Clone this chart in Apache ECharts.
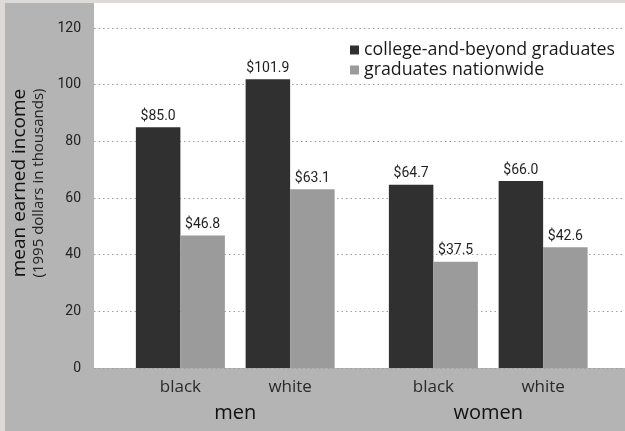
<!DOCTYPE html>
<html><head><meta charset="utf-8">
<script src="https://cdn.jsdelivr.net/npm/echarts@6/dist/echarts.min.js"></script>
<style>html,body{margin:0;padding:0;}#c{width:625px;height:431px;}</style>
</head><body><div id="c"></div>
<script>
var groups = ['men', 'women'];
var races = ['black', 'white'];
var seriesNames = ['college-and-beyond graduates', 'graduates nationwide'];
var menCollege = [85.0, 101.9];
var menNational = [46.8, 63.1];
var womenCollege = [64.7, 66.0];
var womenNational = [37.5, 42.6];
var yTicks = [0, 20, 40, 60, 80, 100, 120];

var DARK = '#303030', GRAY = '#9b9b9b';
var numFont = '"Liberation Sans Narrow", "Roboto", sans-serif';
var txtFont = '"Open Sans", "Noto Sans", sans-serif';

var chart = echarts.init(document.getElementById('c'));
var lbl = {show: true, position: 'top', distance: 4, color: '#231f20', fontFamily: numFont, fontSize: 14,
  formatter: function (p) { return '$' + p.value.toFixed(1); }};
function hiddenY(i){ return {type:'value', gridIndex:i, min:yTicks[0], max:yTicks[yTicks.length-1], interval:20, show:false}; }
function catX(i, name){ return {type:'category', gridIndex:i, data:races, name:name, nameLocation:'middle', nameGap:35,
  nameTextStyle:{fontFamily:txtFont, fontSize:20, color:'#111'},
  axisLine:{show:false}, axisTick:{show:false},
  axisLabel:{margin:11, fontFamily:txtFont, fontSize:17, color:'#2a2a2a'}}; }

chart.setOption({
  backgroundColor: '#dedad7',
  animation: false,
  graphic: [
    {type:'rect', shape:{x:5, y:3, width:620, height:428}, style:{fill:'#b4b4b4'}, z:-10},
    {type:'rect', shape:{x:94, y:3, width:531, height:365}, style:{fill:'#ffffff'}, z:-9}
  ],
  legend: {orient:'vertical', left:345, top:35, itemWidth:9, itemHeight:9, itemGap:0, itemTextGap:11,
    icon:'rect', textStyle:{fontFamily:txtFont, fontSize:17.8, lineHeight:20, color:'#1a1a1a'}, data: seriesNames},
  grid: [
    {left:94, right:0, top:28, bottom:63},
    {left:125.5, width:219.5, top:28, bottom:63},
    {left:378.5, width:219.5, top:28, bottom:63}
  ],
  xAxis: [
    {type:'category', gridIndex:0, data:[''], show:false},
    catX(1, groups[0]),
    catX(2, groups[1])
  ],
  yAxis: [
    {type:'value', gridIndex:0, min:yTicks[0], max:yTicks[yTicks.length-1], interval:20,
      name:'{a|mean earned income}\n{b|(1995 dollars in thousands)}', nameLocation:'middle', nameRotate:90, nameGap:39,
      nameTextStyle:{padding:[0,0,0,30], rich:{a:{fontFamily:txtFont, fontSize:19, color:'#111', lineHeight:21, align:'center'},
                          b:{fontFamily:txtFont, fontSize:15, color:'#222', lineHeight:17, align:'center'}}},
      axisLine:{show:false}, axisTick:{show:false},
      axisLabel:{margin:13, fontFamily:numFont, fontSize:14, color:'#222'},
      splitLine:{show:true, lineStyle:{type:[1.5,3], color:'#a0a0a0', width:1.2}}},
    hiddenY(1), hiddenY(2)
  ],
  series: [
    {name:seriesNames[0], type:'bar', xAxisIndex:1, yAxisIndex:1, data:menCollege, barWidth:44.5, barGap:'0%', itemStyle:{color:DARK}, label:lbl},
    {name:seriesNames[1], type:'bar', xAxisIndex:1, yAxisIndex:1, data:menNational, barWidth:44.5, barGap:'0%', itemStyle:{color:GRAY}, label:lbl},
    {name:seriesNames[0], type:'bar', xAxisIndex:2, yAxisIndex:2, data:womenCollege, barWidth:44.5, barGap:'0%', itemStyle:{color:DARK}, label:lbl},
    {name:seriesNames[1], type:'bar', xAxisIndex:2, yAxisIndex:2, data:womenNational, barWidth:44.5, barGap:'0%', itemStyle:{color:GRAY}, label:lbl}
  ]
});
</script></body></html>
